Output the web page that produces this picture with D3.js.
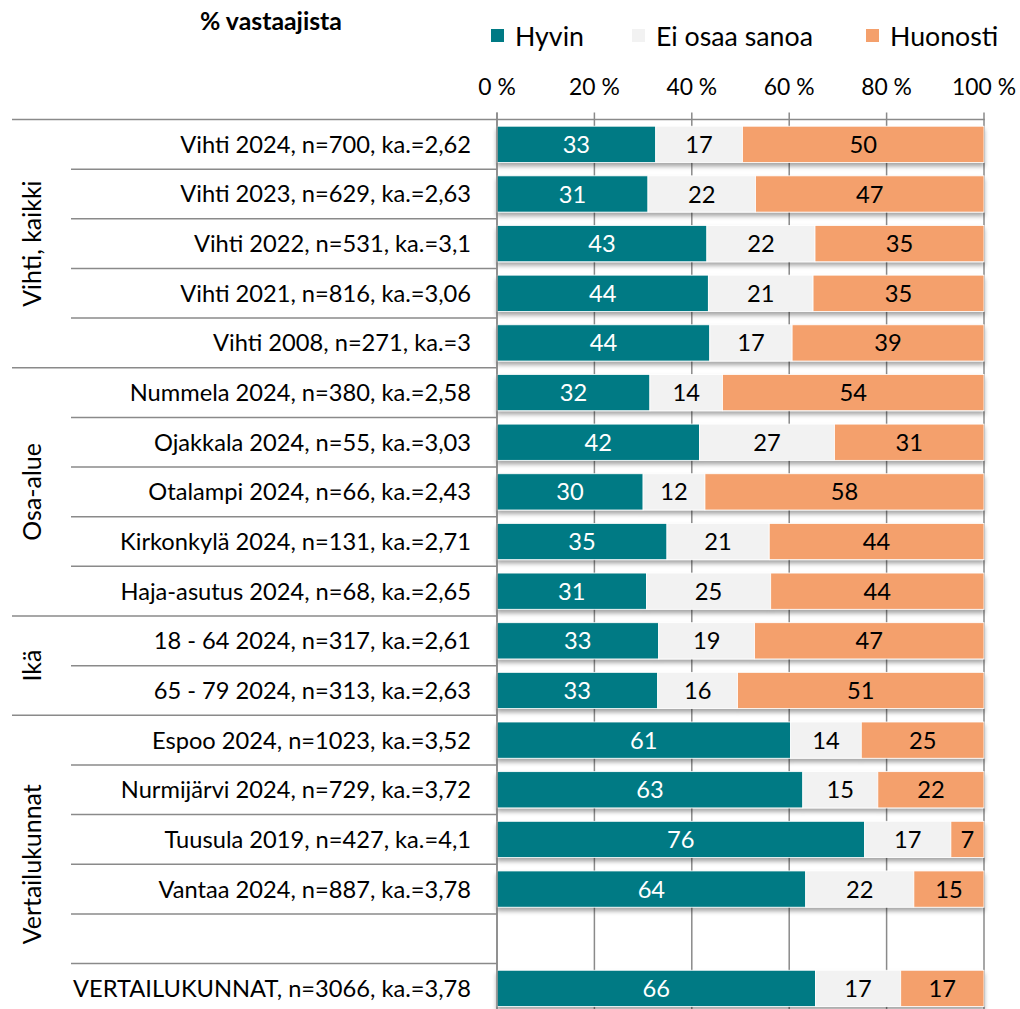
<!DOCTYPE html>
<html>
<head>
<meta charset="utf-8">
<script src="https://cdn.jsdelivr.net/npm/d3@7"></script>
<style>
  html, body { margin: 0; padding: 0; background: #fff; }
  svg { display: block; }
  text { font-family: Lato, "Noto Sans", sans-serif; fill: #000; }
</style>
</head>
<body>
<svg id="chart" width="1020" height="1009"></svg>
<script>
// ---------------- data ----------------
const categories = [
  "Vihti 2024, n=700, ka.=2,62",
  "Vihti 2023, n=629, ka.=2,63",
  "Vihti 2022, n=531, ka.=3,1",
  "Vihti 2021, n=816, ka.=3,06",
  "Vihti 2008, n=271, ka.=3",
  "Nummela 2024, n=380, ka.=2,58",
  "Ojakkala 2024, n=55, ka.=3,03",
  "Otalampi 2024, n=66, ka.=2,43",
  "Kirkonkylä 2024, n=131, ka.=2,71",
  "Haja-asutus 2024, n=68, ka.=2,65",
  "18 - 64 2024, n=317, ka.=2,61",
  "65 - 79 2024, n=313, ka.=2,63",
  "Espoo 2024, n=1023, ka.=3,52",
  "Nurmijärvi 2024, n=729, ka.=3,72",
  "Tuusula 2019, n=427, ka.=4,1",
  "Vantaa 2024, n=887, ka.=3,78",
  "",
  "VERTAILUKUNNAT, n=3066, ka.=3,78"
];
const groupNames = ["Vihti, kaikki", "Osa-alue", "Ikä", "Vertailukunnat"];
const groupStart = [0, 5, 10, 12];
const groupEnd   = [5, 10, 12, 18];

const seriesNames = ["Hyvin", "Ei osaa sanoa", "Huonosti"];
const hyvin    = [32.6, 31.0, 43.1, 43.4, 43.7, 31.4, 41.6, 30.0, 34.9, 30.7, 33.2, 33.0, 60.3, 62.8, 75.5, 63.4, null, 65.4];
const eiOsaa   = [17.8, 22.1, 22.2, 21.5, 16.9, 14.9, 27.7, 12.7, 21.0, 25.5, 19.7, 16.4, 14.5, 15.4, 17.7, 22.2, null, 17.5];
const huonosti = [49.6, 46.9, 34.7, 35.1, 39.4, 53.7, 30.7, 57.3, 44.1, 43.8, 47.1, 50.6, 25.2, 21.8, 6.8, 14.4, null, 17.1];
const hyvinLabels    = [33, 31, 43, 44, 44, 32, 42, 30, 35, 31, 33, 33, 61, 63, 76, 64, null, 66];
const eiOsaaLabels   = [17, 22, 22, 21, 17, 14, 27, 12, 21, 25, 19, 16, 14, 15, 17, 22, null, 17];
const huonostiLabels = [50, 47, 35, 35, 39, 54, 31, 58, 44, 44, 47, 51, 25, 22, 7, 15, null, 17];
const tickValues = [0, 20, 40, 60, 80, 100];
const tickLabels = ["0 %", "20 %", "40 %", "60 %", "80 %", "100 %"];
const titleText = "% vastaajista";

// ---------------- style / layout ----------------
const colors = ["#007A84", "#F2F2F2", "#F4A06C"];
const labelColors = ["#ffffff", "#000000", "#000000"];
const gridColor = "#8a8a8a";
const x0 = 497, x1 = 984, yTop = 119.5, bandH = 49.65;

const svg = d3.select("#chart");
const defs = svg.append("defs");
const f = defs.append("filter").attr("id", "shadow")
  .attr("x", "-5%").attr("y", "-30%").attr("width", "110%").attr("height", "170%");
f.append("feDropShadow").attr("dx", 0).attr("dy", 3.5).attr("stdDeviation", 2)
  .attr("flood-color", "#000").attr("flood-opacity", 0.35);

const x = d3.scaleLinear().domain([0, 100]).range([x0, x1]);
const y = d3.scaleBand().domain(d3.range(categories.length))
  .range([yTop, yTop + bandH * categories.length])
  .paddingInner(0.27).paddingOuter(0.135);
const yBottom = yTop + bandH * categories.length;

// fit helper: font size so that a reference string has a target width
function fitSize(str, target, weight) {
  const t = svg.append("text").attr("font-size", 100).attr("font-weight", weight || "normal").text(str);
  const w = t.node().getComputedTextLength();
  t.remove();
  return 100 * target / w;
}
const catSize = fitSize("VERTAILUKUNNAT, n=3066, ka.=3,78", 398);
const tickSize = fitSize("100 %", 64);
const legendSize = fitSize("Ei osaa sanoa", 157);
const titleSize = fitSize(titleText, 142, "bold");
const groupSize = fitSize("Vertailukunnat", 160);
const valueSize = fitSize("76", 27.5);

// ---------------- gridlines & axes ----------------
const grid = svg.append("g");
grid.selectAll("line.grid").data(tickValues).join("line")
  .attr("x1", d => x(d)).attr("x2", d => x(d))
  .attr("y1", yTop - 7).attr("y2", yBottom)
  .attr("stroke", gridColor).attr("stroke-width", 1.5);
// top axis line (also top separator)
grid.append("line").attr("x1", 12).attr("x2", x1 + 0.75)
  .attr("y1", yTop).attr("y2", yTop).attr("stroke", gridColor).attr("stroke-width", 1.5);

svg.append("g").selectAll("text").data(tickValues).join("text")
  .attr("x", d => x(d)).attr("y", 95)
  .attr("text-anchor", "middle").attr("font-size", tickSize)
  .text((d, i) => tickLabels[i]);

// category separators
const seps = d3.range(1, categories.length).map(i => ({
  yy: yTop + i * bandH,
  outer: groupStart.includes(i)
}));
svg.append("g").selectAll("line").data(seps).join("line")
  .attr("x1", d => d.outer ? 12 : 71).attr("x2", x0)
  .attr("y1", d => d.yy).attr("y2", d => d.yy)
  .attr("stroke", gridColor).attr("stroke-width", 1.5);

// ---------------- bars ----------------
const rows = categories.map((c, i) => ({ i, vals: [hyvin[i], eiOsaa[i], huonosti[i]],
  labels: [hyvinLabels[i], eiOsaaLabels[i], huonostiLabels[i]] }))
  .filter(r => r.vals[0] !== null);

const rowG = svg.append("g").selectAll("g").data(rows).join("g")
  .attr("filter", "url(#shadow)");
rowG.each(function(r) {
  let acc = 0;
  const segs = r.vals.map((v, k) => { const s = { k, a: acc, b: acc + v, lbl: r.labels[k] }; acc += v; return s; });
  const g = d3.select(this);
  g.selectAll("rect").data(segs).join("rect")
    .attr("x", s => x(s.a)).attr("width", s => x(s.b) - x(s.a))
    .attr("y", y(r.i)).attr("height", y.bandwidth())
    .attr("fill", s => colors[s.k])
    .attr("stroke", "#ffffff").attr("stroke-width", 0.8);
});
const lblG = svg.append("g");
rows.forEach(r => {
  let acc = 0;
  r.vals.forEach((v, k) => {
    lblG.append("text")
      .attr("x", x(acc + v / 2)).attr("y", y(r.i) + y.bandwidth() / 2)
      .attr("dy", "0.36em").attr("text-anchor", "middle")
      .attr("font-size", valueSize)
      .style("fill", labelColors[k])
      .text(r.labels[k]);
    acc += v;
  });
});

// left axis line
svg.append("line").attr("x1", x0).attr("x2", x0).attr("y1", yTop - 7).attr("y2", yBottom)
  .attr("stroke", gridColor).attr("stroke-width", 1.5);

// ---------------- category labels ----------------
svg.append("g").selectAll("text").data(categories).join("text")
  .attr("x", 471).attr("y", (d, i) => y(i) + y.bandwidth() / 2)
  .attr("dy", "0.36em").attr("text-anchor", "end")
  .attr("font-size", catSize).text(d => d);

// group labels
svg.append("g").selectAll("text").data(groupNames).join("text")
  .attr("transform", (d, i) => {
    const cy = yTop + (groupStart[i] + groupEnd[i]) / 2 * bandH;
    return `translate(41,${cy}) rotate(-90)`;
  })
  .attr("text-anchor", "middle").attr("font-size", groupSize).text(d => d);

// ---------------- title & legend ----------------
svg.append("text").attr("x", 271).attr("y", 30).attr("text-anchor", "middle")
  .attr("font-weight", "bold").attr("font-size", titleSize).text(titleText);

const legendX = [491, 632, 866];
const leg = svg.append("g").selectAll("g").data(seriesNames).join("g")
  .attr("transform", (d, i) => `translate(${legendX[i]},0)`);
leg.append("rect").attr("x", 0).attr("y", 29).attr("width", 13).attr("height", 13)
  .attr("fill", (d, i) => colors[i]);
leg.append("text").attr("x", 24).attr("y", 36).attr("dy", "0.36em")
  .attr("font-size", legendSize).text(d => d);
</script>
</body>
</html>
